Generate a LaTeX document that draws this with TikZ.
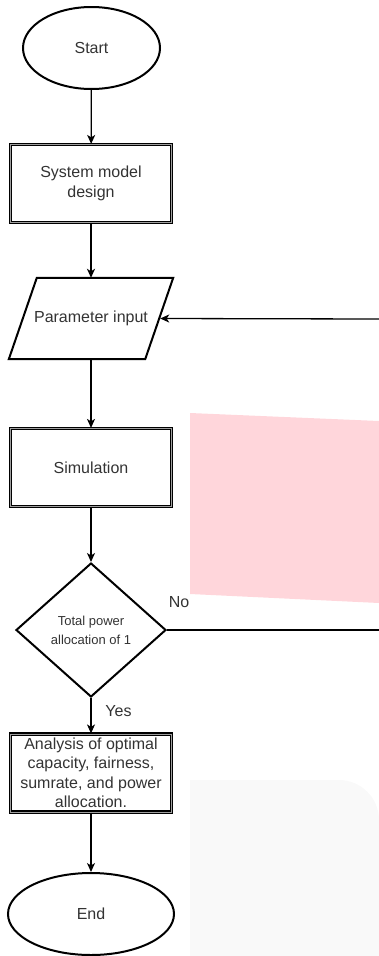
\documentclass[tikz,border=0pt]{standalone}
\usepackage{fontspec}
\setmainfont{Liberation Sans}
\usetikzlibrary{shapes.geometric,arrows.meta}
\definecolor{txt}{HTML}{333333}
\definecolor{pinkbg}{RGB}{255,214,219}
\definecolor{graybg}{HTML}{F9F9F9}
\tikzset{
  every node/.style={text=txt, font=\fontsize{16}{19.5}\selectfont},
  term/.style={ellipse, draw=black, line width=2pt, inner sep=0pt},
  procbox/.style={rectangle, draw=black, line width=1.2pt, double=gray!75, double distance=0.8pt, minimum width=161pt, minimum height=78pt, inner sep=0pt, align=center},
  decide/.style={diamond, draw=black, line width=2pt, minimum width=150pt, minimum height=134pt, inner sep=0pt, align=center, font=\fontsize{13}{19}\selectfont},
  outline/.style={draw=black, line width=2pt, line join=miter},
  conn/.style={draw=black, line width=1.3pt, -{Stealth[length=9pt,width=8pt,inset=2.5pt]}},
  plainconn/.style={draw=black, line width=1.3pt},
  lbl/.style={font=\fontsize{16}{19}\selectfont}
}
\begin{document}
\begin{tikzpicture}[x=1pt,y=-1pt]
\useasboundingbox (0,0) rectangle (379,956);
% background patches
\fill[pinkbg] (190,413) -- (379,421) -- (379,603) -- (190,594) -- cycle;
\fill[graybg] (190,956) -- (190,780) [rounded corners=40pt] -- (379,780) [sharp corners] -- (379,956) -- cycle;

\node[term, minimum width=137pt, minimum height=82pt] (start) at (91.5,48) {Start};
\node[procbox] (sys) at (91,183.5) {System model\\design};
\node[minimum width=164pt, minimum height=81pt, inner sep=0pt] (param) at (91,318.5) {Parameter input};
\draw[outline] ([xshift=28pt]param.north west) -- (param.north east) -- ([xshift=-28pt]param.south east) -- (param.south west) -- cycle;
\coordinate (pin) at ([xshift=-13pt]param.east);
\node[procbox] (sim) at (91,467.5) {Simulation};
\node[decide] (dec) at (91,630) {Total power\\allocation of 1};
\node[procbox] (ana) at (91,773) {Analysis of optimal\\capacity, fairness,\\sumrate, and power\\allocation.};
\node[term, minimum width=166pt, minimum height=82pt] (end) at (91,914) {End};

\coordinate (noend) at (379,630);
\coordinate (backstart) at (379,319);

\draw[conn] (start) -- (sys);
\draw[conn] (sys) -- (param);
\draw[conn] (param) -- (sim);
\draw[conn] (sim) -- (dec);
\draw[conn] (dec) -- (ana);
\draw[conn] (ana) -- (end);
\draw[plainconn] (dec.east) -- (noend);
\draw[conn] (backstart) -- (pin);

\node[lbl] (no) at (179,602) {No};
\node[lbl] (yes) at (118.5,711) {Yes};
\end{tikzpicture}
\end{document}
